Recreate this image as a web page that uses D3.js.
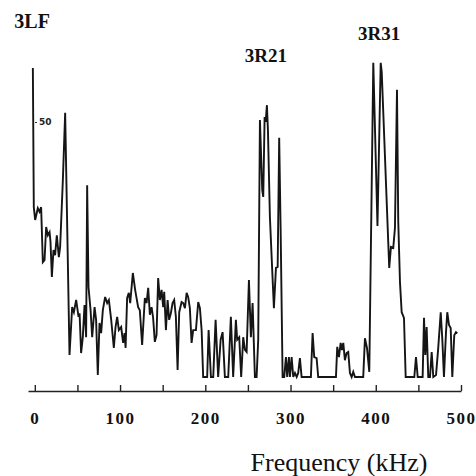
<!DOCTYPE html>
<html>
<head>
<meta charset="utf-8">
<script src="https://cdn.jsdelivr.net/npm/d3@7"></script>
<style>
  body { margin: 0; background: #fff; }
  svg { display: block; }
</style>
</head>
<body>
<div class="graph"></div>
<script>
// frequency (kHz)
const freq = [-2.3, -1.2, 0.4, 3.5, 5.5, 7.4, 9.4, 11.4, 13.3, 15.3, 17.3, 18.4, 20.0, 21.9, 23.8, 25.8, 28.2, 29.7, 32.9, 35.6,
  40.7, 43.8, 45.8, 48.5, 51.3, 52.5, 54.3, 56.3, 58.3, 60.2, 61.4, 63.0, 65.4, 67.3, 70.1, 71.9, 73.9, 75.9, 77.8, 79.8,
  82.5, 84.9, 86.9, 89.6, 92.7, 94.7, 96.6, 98.6, 101.3, 103.6, 105.3, 106.5, 108.3, 110.3, 111.9, 115.0, 117.7, 121.2, 123.2, 125.9,
  129.1, 131.1, 133.0, 135.0, 137.0, 138.8, 140.8, 142.8, 144.7, 146.7, 148.7, 150.6, 151.8, 153.8, 155.8, 157.6, 159.6, 161.6, 163.5, 165.5,
  167.5, 169.4, 172.2, 174.1, 176.1, 178.1, 179.9, 181.9, 183.9, 185.8, 189.0, 191.7, 193.7, 195.7, 197.5, 202.2, 203.9, 206.6, 209.3, 212.1,
  215.1, 218.0, 220.3, 223.0, 226.9, 230.0, 232.7, 235.9, 237.4, 239.8, 242.1, 244.5, 246.5, 248.5, 251.2, 253.5, 255.5, 258.2, 260.2, 262.1,
  264.1, 266.8, 268.0, 269.6, 270.8, 272.3, 273.5, 275.8, 278.5, 280.5, 282.9, 284.9, 286.7, 288.4, 290.7, 292.6, 294.6, 296.1, 298.1, 299.3,
  301.3, 303.2, 305.2, 307.2, 309.0, 311.0, 313.0, 323.9, 325.9, 327.8, 330.6, 332.5, 353.3, 354.8, 356.8, 358.8, 360.3, 361.9, 363.8, 365.8,
  367.7, 369.7, 371.7, 373.6, 375.6, 385.3, 387.3, 389.7, 392.4, 397.1, 402.0, 405.8, 407.0, 415.8, 417.8, 420.5, 422.5, 424.9, 426.4, 428.4,
  430.4, 433.1, 435.1, 445.2, 447.2, 449.2, 455.0, 456.6, 458.1, 459.7, 461.6, 463.6, 465.6, 467.5, 470.7, 473.3, 476.2, 478.1, 480.0, 482.4,
  483.9, 485.9, 487.9, 489.8, 492.1, 494.1, 495.7];

// relative amplitude
const amp = [60.6, 33.3, 30.8, 33.1, 32.4, 33.3, 22.5, 22.9, 29.4, 27.8, 28.4, 26.5, 19.6, 24.9, 23.9, 27.8, 23.5, 25.5, 38.6, 51.8,
  4.3, 13.7, 12.7, 15.1, 11.8, 12.5, 4.7, 7.8, 14.1, 7.8, 37.6, 17.6, 13.1, 7.8, 13.7, 11.2, 0.4, 10.6, 8.6, 13.1,
  15.7, 14.5, 15.1, 11.2, 5.7, 9.8, 11.8, 9.2, 9.8, 6.7, 8.6, 5.7, 15.5, 16.5, 14.5, 20.4, 17.1, 13.7, 13.1, 6.3,
  15.5, 14.5, 17.5, 12.2, 13.7, 11.6, 6.9, 8.2, 19.4, 15.1, 17.1, 13.7, 16.7, 9.2, 15.1, 11.2, 12.5, 14.5, 15.1, 11.8,
  1.4, 12.7, 14.7, 14.5, 13.5, 16.5, 15.7, 13.5, 6.7, 9.2, 9.2, 14.7, 13.5, 9.2, 0, 0, 9.2, 0, 0, 11.2,
  0, 7.3, 8.8, 0, 0, 11.8, 0, 11.2, 7.3, 7.8, 0, 7.8, 5.3, 4.9, 19.0, 7.8, 14.5, 0, 0, 7.3,
  50.4, 36.7, 35.3, 51.0, 50.0, 53.3, 48.4, 31.4, 21.0, 13.5, 21.4, 21.6, 46.9, 28.8, 0, 0, 3.9, 0, 3.9, 0,
  3.9, 0, 0.8, 0, 0.8, 3.7, 0, 0, 8.6, 3.9, 3.7, 0, 0, 5.9, 3.9, 6.7, 5.3, 6.7, 3.3, 4.7,
  4.9, 0.8, 0, 1.0, 0, 0, 7.6, 5.7, 1.0, 61.6, 29.6, 61.6, 59.8, 21.4, 25.5, 25.3, 29.2, 56.3, 30.4, 18.6,
  12.7, 11.6, 0, 0, 3.9, 0, 0, 11.6, 4.3, 9.8, 0, 0, 4.9, 0, 0.4, 5.7, 12.7, 7.3, 0, 8.8,
  12.7, 10.2, 9.6, 0, 8.2, 8.8, 8.6];

const xTicks = [0, 50, 100, 150, 200, 250, 300, 350, 400, 450, 500];
const xLabels = [0, 100, 200, 300, 400, 500];
const yTicks = [50];

const peaks = [
  { name: "3LF", f: -24, y: 28, size: 20 },
  { name: "3R21", f: 271, y: 62, size: 19 },
  { name: "3R31", f: 404, y: 40, size: 19 }
];

let width = 476, height = 476;

let svg = d3.select('.graph')
  .append("svg")
    .attr("width", width)
    .attr("height", height);

const x = d3.scaleLinear()
  .domain([-8, 500])
  .range([28, 461]);

const y = d3.scaleLinear()
  .domain([0, 50])
  .range([377, 122]);

// X axis, ticks pointing up
let xAxis = svg.append("g")
  .attr("transform", "translate(0,391)")
  .call(d3.axisBottom(x)
    .tickValues(xTicks)
    .tickSizeInner(-6)
    .tickSizeOuter(0)
    .tickPadding(21)
    .tickFormat(d => xLabels.includes(d) ? d : ""));
xAxis.select(".domain").attr("stroke", "#222").attr("stroke-width", 1.4);
xAxis.selectAll(".tick line").attr("stroke", "#222").attr("stroke-width", 1.4);
xAxis.selectAll(".tick text")
  .attr("fill", "#111")
  .attr("font-family", "'Liberation Serif', 'Times New Roman', serif")
  .attr("font-weight", "bold")
  .attr("font-size", 17)
  .attr("letter-spacing", 1.5);

// Y axis: just the 50 mark
let yAxis = svg.append("g")
  .attr("transform", "translate(35,0)")
  .call(d3.axisRight(y)
    .tickValues(yTicks)
    .tickSize(2)
    .tickPadding(2));
yAxis.select(".domain").remove();
yAxis.selectAll(".tick line").attr("stroke", "#333");
yAxis.selectAll(".tick text")
  .attr("fill", "#222")
  .attr("font-family", "'DejaVu Sans', sans-serif")
  .attr("font-weight", "bold")
  .attr("font-size", 9);

// the spectrum trace
let data = freq.map((f, i) => ({ f: f, v: amp[i] }));

svg.append("path")
  .datum(data)
  .attr("fill", "none")
  .attr("stroke", "#151515")
  .attr("stroke-width", 1.9)
  .attr("stroke-linejoin", "miter")
  .attr("d", d3.line()
    .x(d => x(d.f))
    .y(d => y(d.v)));

// peak labels
svg.selectAll(".peak")
  .data(peaks)
  .enter().append("text")
    .attr("class", "peak")
    .attr("x", d => x(d.f))
    .attr("y", d => d.y)
    .attr("text-anchor", (d, i) => i === 0 ? "start" : "middle")
    .attr("font-family", "'Liberation Serif', 'Times New Roman', serif")
    .attr("font-weight", "bold")
    .attr("font-size", d => d.size)
    .attr("fill", "#111")
    .text(d => d.name);

// axis title
svg.append("text")
  .attr("x", 339)
  .attr("y", 471)
  .attr("text-anchor", "middle")
  .attr("font-family", "'Liberation Serif', 'Times New Roman', serif")
  .attr("font-size", 26)
  .attr("fill", "#111")
  .text("Frequency (kHz)");
</script>
</body>
</html>
